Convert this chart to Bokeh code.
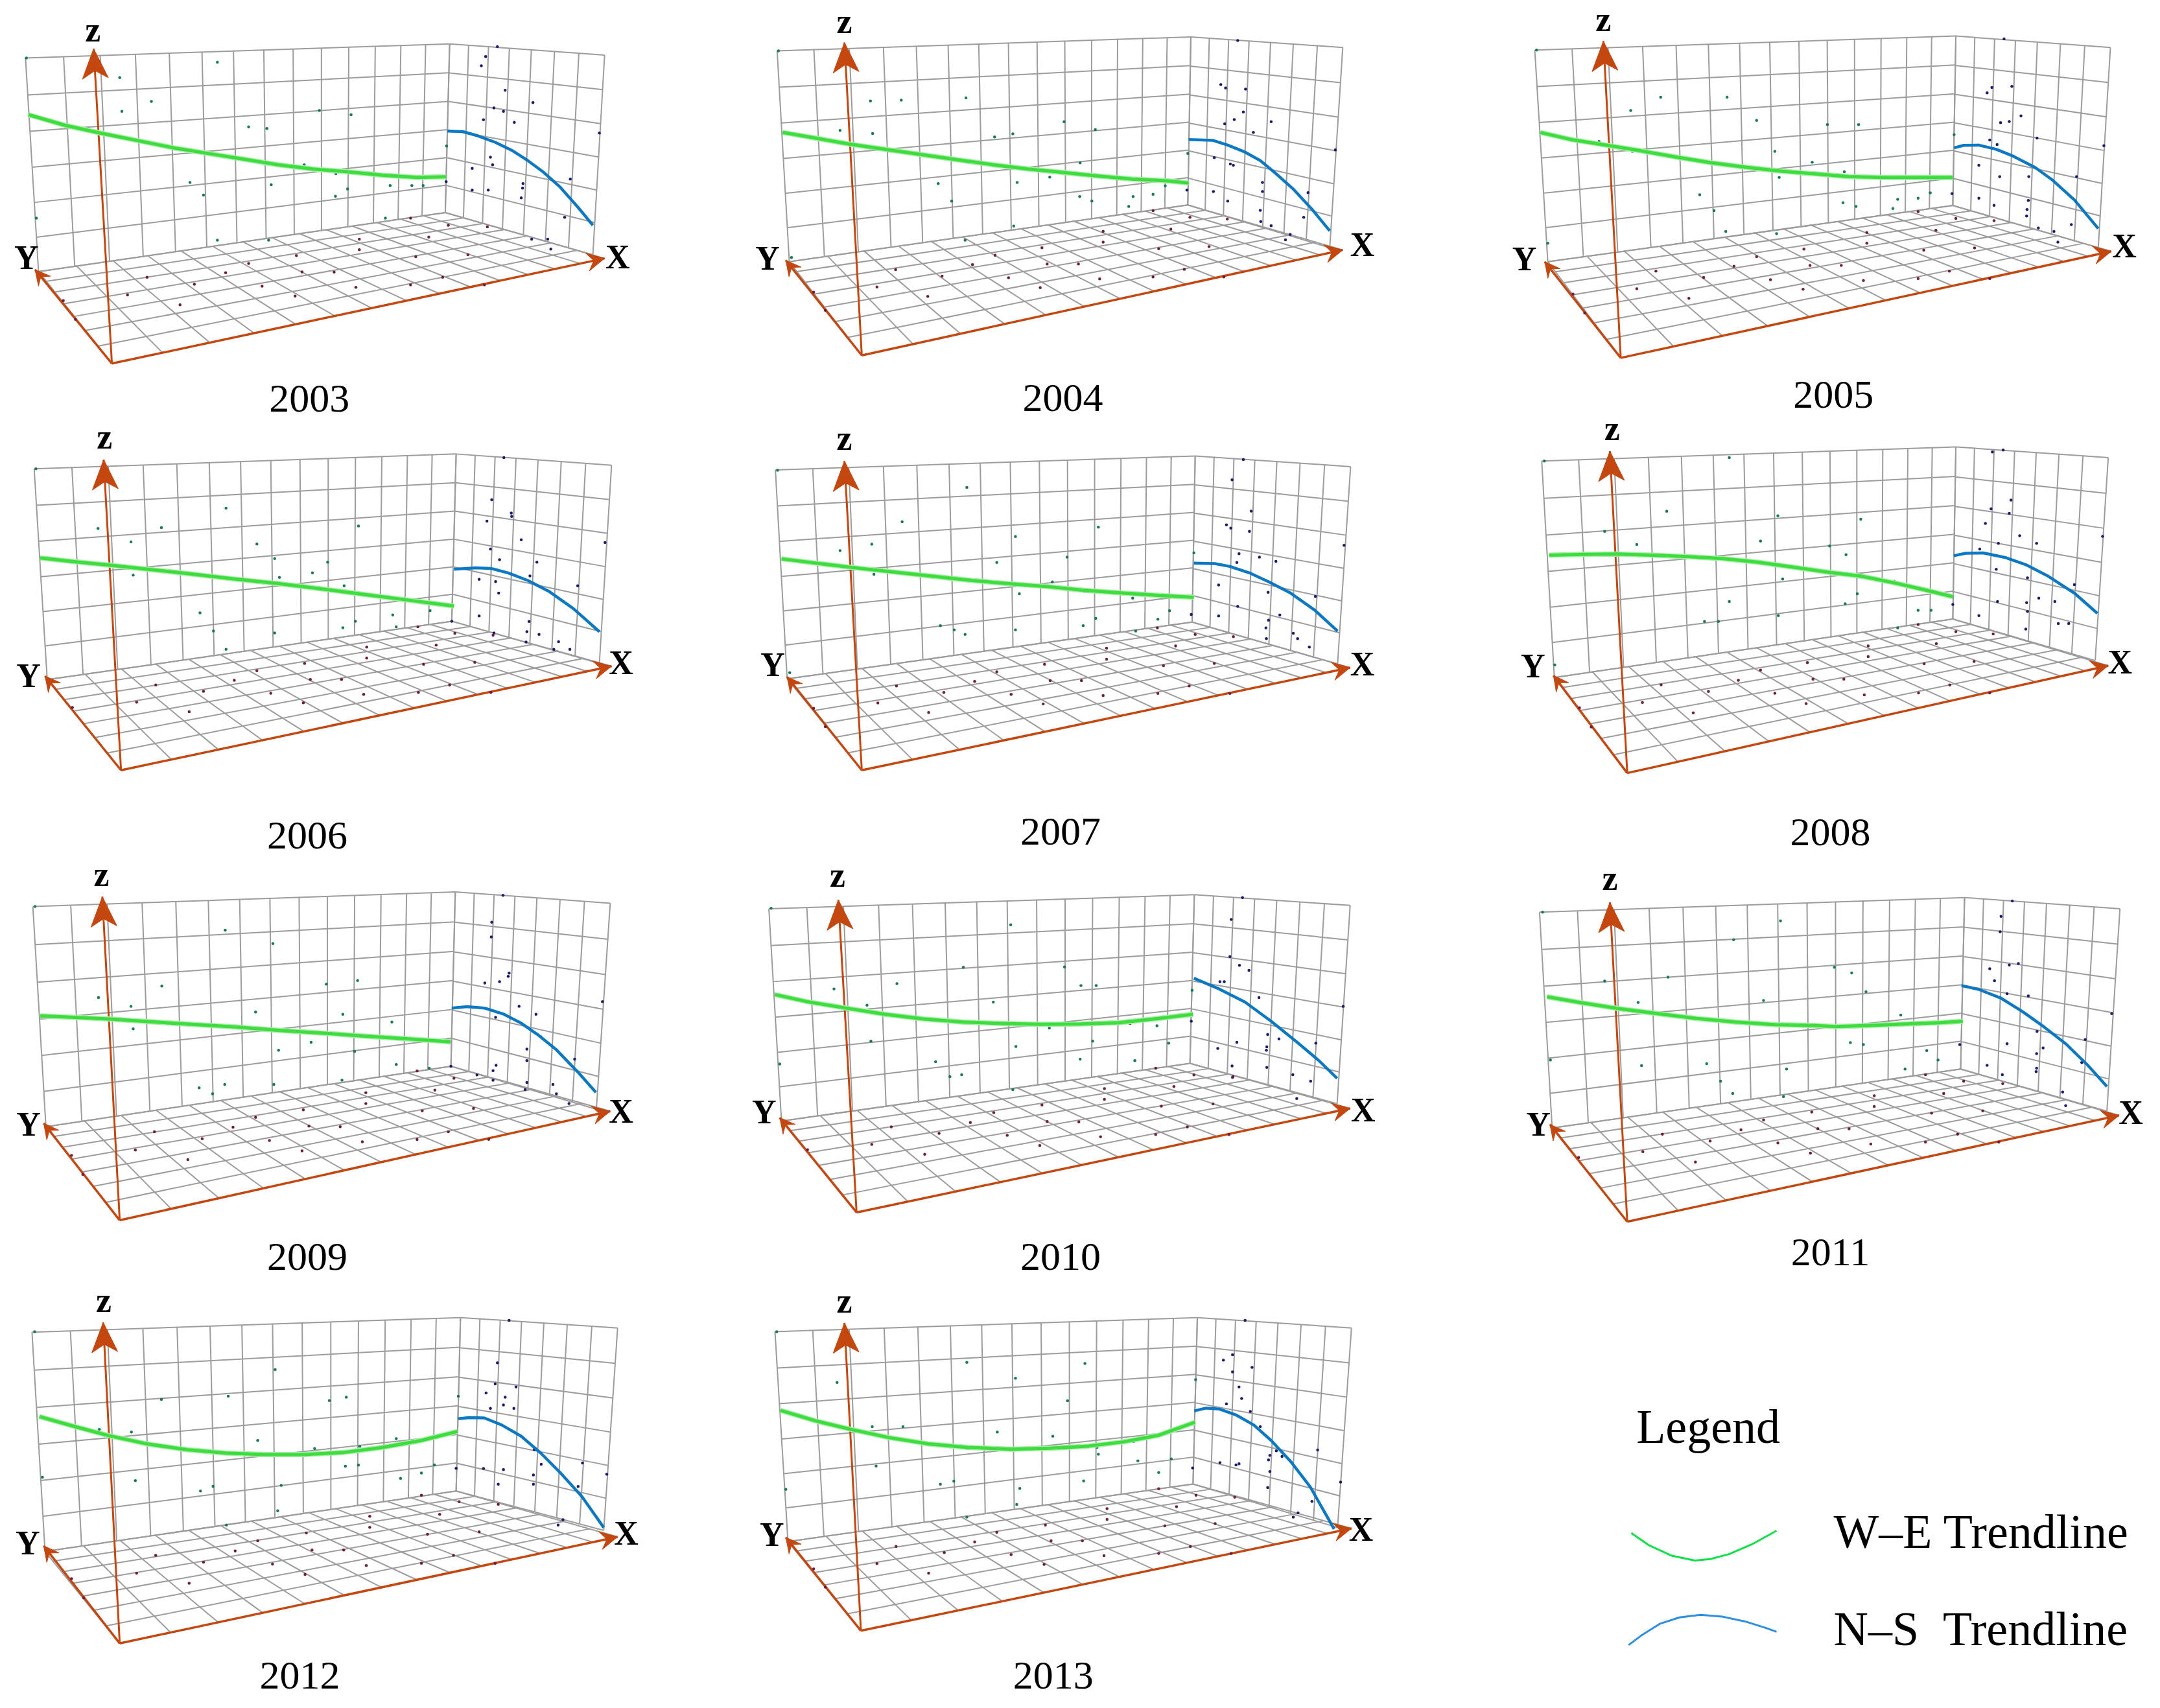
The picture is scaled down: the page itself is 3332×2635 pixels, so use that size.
# Yearly 3D trend plots 2003-2013, W-E and N-S trendlines on projected walls
# all positions are read off the picture, in crop units (see page_xy)
import numpy as np
from bokeh.core.properties import value
from bokeh.embed import file_html
from bokeh.models import Range1d
from bokeh.plotting import figure
from bokeh.resources import INLINE

years = ["2003", "2004", "2005", "2006", "2007", "2008", "2009", "2010", "2011", "2012", "2013"]

# W-E trendlines
we_2003 = [(65,407),(150,445),(230,472),(320,500),(400,525),(480,545),(560,565),(640,585),(720,600),(800,610),(880,622),(960,630),(1027,628)]
we_2004 = [(115,470),(190,490),(270,512),(360,532),(440,550),(520,568),(600,585),(680,600),(760,612),(840,625),(920,636),(1000,642),(1050,650)]
we_2005 = [(140,470),(210,495),(290,515),(370,535),(450,557),(530,577),(610,593),(690,607),(770,617),(850,627),(930,630),(1010,630),(1090,630)]
we_2006 = [(92,485),(170,498),(250,510),(340,525),(440,542),(540,560),(640,576),(740,595),(840,615),(940,635),(1045,656)]
we_2007 = [(112,488),(190,503),(270,518),(360,533),(450,548),(550,565),(650,578),(720,586),(810,600),(900,610),(980,618),(1062,625)]
we_2008 = [(160,475),(240,472),(320,471),(400,475),(480,480),(560,487),(640,500),(720,517),(800,535),(880,550),(960,575),(1030,600),(1090,623)]
we_2009 = [(92,546),(170,551),(250,557),(340,566),(440,576),(540,585),(640,597),(740,607),(840,618),(940,628),(1037,638)]
we_2010 = [(97,470),(170,495),(260,518),(350,540),(440,557),(530,568),(620,573),(710,576),(800,575),(890,570),(980,555),(1060,540)]
we_2011 = [(155,478),(230,498),(320,520),(410,538),(500,555),(590,568),(680,577),(770,580),(820,584),(900,580),(980,575),(1060,570),(1113,565)]
we_2012 = [(90,530),(170,565),(250,598),(340,628),(430,648),(520,660),(610,665),(700,665),(790,658),(880,640),(970,615),(1053,583)]
we_2013 = [(110,508),(190,545),(270,575),(360,605),(450,627),(540,640),(640,646),(730,643),(820,635),(900,620),(980,597),(1065,550)]

# N-S trendlines
ns_2003 = [(1030,465),(1065,467),(1100,482),(1140,505),(1180,535),(1215,570),(1250,610),(1290,665),(1330,735),(1365,800)]
ns_2004 = [(1050,495),(1105,498),(1140,515),(1180,540),(1215,570),(1250,615),(1290,670),(1335,745),(1375,820)]
ns_2005 = [(1093,525),(1115,516),(1150,515),(1190,530),(1230,555),(1280,595),(1320,640),(1370,710),(1425,812)]
ns_2006 = [(1045,525),(1095,520),(1130,522),(1170,538),(1215,565),(1265,605),(1320,665),(1380,747)]
ns_2007 = [(1062,503),(1110,505),(1145,515),(1190,538),(1235,570),(1285,610),(1340,670),(1393,745)]
ns_2008 = [(1092,477),(1120,468),(1160,467),(1210,483),(1260,510),(1310,550),(1370,610),(1423,682)]
ns_2009 = [(1040,518),(1075,513),(1115,518),(1160,540),(1200,572),(1240,615),(1280,665),(1330,745),(1372,818)]
ns_2010 = [(1062,412),(1120,450),(1180,497),(1240,565),(1300,640),(1350,705),(1392,768)]
ns_2011 = [(1110,438),(1150,452),(1200,482),(1250,530),(1300,585),(1350,645),(1400,720),(1445,797)]
ns_2012 = [(1055,538),(1080,534),(1115,535),(1155,560),(1200,600),(1245,660),(1290,730),(1340,815),(1390,925)]
ns_2013 = [(1063,510),(1090,500),(1120,503),(1160,525),(1200,560),(1240,615),(1285,690),(1330,780),(1385,930)]

# points projected on the back wall (green)
wall_w_2003 = [(60,205),(500,220),(275,275),(348,360),(280,395),(735,392),(808,407),(572,450),(614,456),(700,585),(773,617),(437,648),(624,656),(468,693),(800,671),(772,697),(898,659),(948,659),(974,659),(1028,518),(83,775),(500,853),(618,853),(887,775)]
wall_w_2004 = [(105,180),(317,358),(388,355),(537,347),(763,432),(835,460),(247,463),(322,474),(603,486),(645,475),(800,578),(473,652),(655,648),(730,629),(504,714),(799,698),(827,714),(922,698),(968,690),(996,660),(912,733),(1048,545),(647,803),(535,853),(135,915)]
wall_w_2005 = [(131,177),(417,345),(570,345),(348,392),(638,427),(801,442),(873,442),(275,502),(352,537),(680,537),(1093,478),(766,576),(840,610),(690,630),(507,692),(837,720),(867,733),(963,708),(1010,704),(1038,685),(952,741),(540,748),(567,822),(684,830),(157,864)]
wall_w_2006 = [(82,168),(520,308),(825,371),(225,380),(371,377),(301,428),(591,435),(632,487),(754,500),(719,538),(306,546),(643,554),(792,584),(460,680),(904,688),(990,672),(818,710),(912,730),(789,733),(491,745),(632,752),(520,810)]
wall_w_2007 = [(103,173),(539,234),(390,356),(842,375),(651,409),(320,436),(247,459),(770,482),(608,501),(1062,467),(325,543),(736,570),(809,604),(660,612),(921,628),(1006,673),(836,700),(979,703),(807,726),(478,726),(510,741),(651,741),(535,757),(928,745),(131,893)]
wall_w_2008 = [(149,140),(575,128),(431,319),(687,335),(878,347),(288,390),(362,437),(647,425),(806,442),(844,473),(367,478),(772,529),(698,560),(955,568),(870,612),(575,640),(842,648),(688,690),(1010,671),(1040,671),(518,711),(550,711),(963,734),(173,865)]
wall_w_2009 = [(80,157),(518,241),(628,289),(372,440),(751,433),(823,420),(226,481),(301,512),(588,532),(789,540),(902,568),(306,592),(716,640),(641,668),(816,672),(912,719),(988,732),(787,775),(458,802),(517,790),(630,790),(489,823)]
wall_w_2010 = [(88,163),(640,222),(531,373),(764,372),(802,438),(837,438),(378,431),(233,450),(600,497),(309,508),(1058,455),(915,573),(977,581),(729,589),(318,636),(829,636),(1004,643),(652,655),(467,709),(800,700),(926,705),(108,717),(527,755),(500,762),(645,808)]
wall_w_2011 = [(145,177),(693,208),(585,275),(817,373),(857,393),(288,422),(434,408),(890,460),(654,491),(365,498),(970,543),(854,641),(884,648),(1030,669),(1056,703),(373,723),(523,716),(707,735),(980,735),(163,703),(555,778),(583,822),(700,833)]
wall_w_2012 = [(79,228),(633,363),(371,469),(525,458),(758,473),(797,461),(1055,458),(228,576),(302,585),(593,615),(724,644),(828,636),(912,609),(795,707),(825,703),(1000,702),(970,731),(922,750),(311,758),(97,746),(461,795),(490,778),(647,775),(639,865),(521,916)]
wall_w_2013 = [(101,228),(539,337),(811,341),(651,394),(240,409),(771,474),(1066,399),(321,566),(392,566),(609,585),(737,600),(923,619),(839,640),(842,664),(933,688),(1010,681),(330,706),(981,729),(808,759),(478,771),(509,760),(661,786),(122,789),(654,843),(539,888)]

# points projected on the side wall (navy)
wall_n_2003 = [(1145,165),(1118,200),(1108,233),(1163,320),(1227,364),(1137,383),(1159,395),(1113,425),(1184,434),(1380,472),(1129,558),(1134,585),(1087,598),(1313,636),(1204,652),(1203,668),(1087,675),(1124,675),(1200,703),(1300,772),(1224,850),(1261,850),(1268,885),(1027,645)]
wall_n_2004 = [(1163,143),(1124,300),(1135,312),(1181,316),(1176,397),(1155,424),(1133,439),(1240,432),(1199,470),(1388,532),(1109,560),(1146,582),(1153,587),(1220,648),(1220,680),(1107,680),(1325,684),(1140,714),(1215,747),(1315,772),(1216,787),(1240,802),(1284,833),(1273,852),(1046,675)]
wall_n_2005 = [(1208,137),(1180,310),(1226,306),(1169,329),(1247,411),(1200,435),(1220,431),(1284,490),(1175,497),(1192,513),(1438,517),(1150,587),(1198,627),(1265,627),(1375,627),(1150,704),(1264,712),(1185,729),(1261,744),(1260,767),(1363,798),(1287,810),(1323,822),(1332,860),(1088,688)]
wall_n_2006 = [(1160,128),(1132,278),(1177,325),(1178,337),(1121,354),(1200,420),(1393,430),(1129,453),(1150,491),(1236,500),(1220,549),(1103,561),(1141,569),(1330,584),(1148,610),(1103,691),(1218,711),(1213,747),(1137,752),(1241,757),(1286,783),(1211,784),(1275,810),(1312,810),(1040,710)]
wall_n_2007 = [(1176,135),(1150,207),(1194,318),(1137,367),(1147,379),(1190,390),(1408,440),(1166,470),(1213,482),(1251,497),(1161,501),(1119,581),(1233,607),(1342,622),(1163,657),(1119,691),(1260,688),(1234,706),(1228,734),(1291,753),(1301,772),(1229,772),(1328,802),(1056,686)]
wall_n_2008 = [(1181,108),(1206,101),(1224,279),(1178,310),(1220,326),(1165,362),(1244,406),(1435,408),(1195,433),(1283,433),(1152,453),(1190,525),(1262,556),(1370,580),(1288,628),(1193,640),(1260,644),(1325,640),(1262,675),(1150,690),(1333,718),(1357,718),(1258,738),(1090,650)]
wall_n_2009 = [(1158,117),(1132,213),(1131,265),(1172,394),(1170,405),(1116,429),(1150,424),(1387,495),(1195,512),(1234,540),(1141,551),(1245,620),(1213,664),(1323,700),(1213,705),(1142,722),(1135,741),(1098,756),(1135,775),(1213,783),(1273,790),(1209,808),(1281,823),(1310,858),(1038,725)]
wall_n_2010 = [(1174,125),(1148,203),(1145,335),(1167,366),(1189,384),(1122,424),(1132,424),(1212,481),(1406,512),(1232,612),(1258,628),(1343,643),(1161,640),(1230,656),(1229,668),(1117,662),(1150,724),(1230,729),(1290,755),(1331,778),(1299,840),(1056,565),(1152,762)]
wall_n_2011 = [(1227,137),(1201,192),(1199,247),(1241,360),(1220,365),(1175,378),(1186,421),(1215,467),(1264,475),(1456,538),(1284,601),(1395,630),(1215,645),(1298,660),(1283,680),(1106,648),(1387,712),(1169,722),(1283,732),(1282,744),(1204,755),(1343,817),(1350,865)]
wall_n_2012 = [(1172,188),(1145,339),(1140,414),(1188,425),(1119,446),(1163,461),(1159,489),(1129,501),(1183,501),(1230,648),(1341,695),(1246,700),(1159,719),(1113,715),(1397,735),(1228,738),(1147,771),(1228,771),(1331,779),(1296,897),(1285,916),(1050,714)]
wall_n_2013 = [(1180,188),(1151,310),(1130,329),(1196,355),(1151,371),(1166,425),(1172,466),(1137,485),(1192,512),(1215,566),(1252,652),(1237,668),(1265,672),(1234,684),(1347,649),(1122,694),(1166,698),(1159,702),(1237,726),(1232,783),(1400,763),(1334,832),(1302,873),(1291,888),(1059,713)]

# points on the floor (maroon)
floor_2003 = [(945,775),(1032,800),(1122,806),(827,850),(987,842),(827,887),(682,908),(957,912),(1077,905),(572,936),(519,969),(695,966),(769,967),(338,985),(447,1010),(603,1017),(819,1021),(945,1012),(1019,985),(293,1048),(679,1052),(414,1083),(145,1068),(173,1135),(1115,1012)]
floor_2004 = [(968,748),(1053,772),(1139,778),(853,822),(1009,814),(853,860),(712,880),(981,884),(1097,876),(604,907),(552,940),(724,938),(796,938),(375,958),(482,981),(635,987),(845,991),(968,984),(1040,957),(332,1020),(708,1022),(449,1053),(186,1038),(213,1103),(1131,984)]
floor_2005 = [(1010,752),(1097,776),(1185,784),(892,826),(1051,818),(892,864),(747,885),(1023,889),(1140,881),(638,912),(586,946),(761,943),(833,943),(406,963),(516,986),(670,994),(884,997),(1010,990),(1082,963),(362,1026),(745,1028),(482,1060),(215,1045),(242,1112),(1175,990)]
floor_2006 = [(962,730),(1047,753),(1135,760),(844,802),(1004,795),(844,841),(701,860),(975,863),(1093,856),(591,886),(539,920),(714,917),(786,917),(358,937),(468,959),(623,966),(837,970),(963,963),(1035,937),(314,998),(698,1000),(435,1032),(166,1017),(1130,963)]
floor_2007 = [(978,734),(1065,757),(1153,765),(861,806),(1020,798),(861,845),(718,863),(992,868),(1109,860),(608,890),(557,924),(731,921),(803,921),(377,940),(486,963),(641,970),(853,974),(979,967),(1051,940),(334,1001),(715,1004),(451,1035),(186,1020),(213,1085),(1145,967)]
floor_2008 = [(1010,722),(1097,747),(1183,755),(895,798),(1052,790),(895,836),(755,857),(1024,861),(1139,853),(647,884),(596,920),(768,916),(839,916),(418,936),(527,960),(680,966),(886,972),(1011,965),(1083,937),(375,999),(752,1003),(492,1036),(230,1018),(257,1086),(1175,965)]
floor_2009 = [(960,742),(1045,768),(842,819),(1001,810),(842,858),(698,880),(972,884),(1090,875),(588,907),(536,942),(711,938),(783,940),(355,958),(465,983),(620,989),(834,994),(960,986),(1032,958),(311,1023),(695,1026),(432,1057),(164,1042),(190,1110),(1125,985)]
floor_2010 = [(974,732),(1062,756),(1151,765),(856,805),(1016,797),(856,843),(712,863),(987,867),(1106,859),(601,890),(547,925),(724,922),(797,923),(365,941),(475,964),(632,971),(847,976),(974,968),(1047,941),(320,1003),(707,1007),(442,1038),(172,1022),(1143,968)]
floor_2011 = [(1027,755),(1115,778),(1205,787),(909,830),(1069,822),(909,868),(765,888),(1041,892),(1159,884),(654,916),(602,951),(779,947),(851,948),(421,967),(531,991),(687,998),(901,1002),(1027,995),(1101,967),(376,1029),(762,1034),(497,1066),(228,1050),(1196,995)]
floor_2012 = [(970,810),(1057,833),(1147,842),(851,885),(1012,878),(851,924),(705,944),(984,949),(1103,940),(593,972),(541,1008),(718,1005),(791,1005),(358,1024),(468,1048),(627,1055),(843,1060),(970,1052),(1044,1024),(314,1087),(702,1092),(435,1123),(164,1107),(192,1175),(1140,1052)]
floor_2013 = [(981,787),(1067,810),(1156,817),(862,858),(1022,851),(862,896),(720,916),(995,919),(1111,911),(608,942),(557,976),(733,972),(805,972),(376,992),(487,1014),(641,1021),(855,1025),(981,1017),(1054,992),(332,1053),(717,1056),(451,1087),(186,1072),(213,1137),(1148,1017)]

# legend curves
legend_we = [(195,775),(240,830),(300,878),(360,900),(400,893),(450,870),(510,825),(572,765)]
legend_ns = [(188,1282),(220,1240),(270,1185),(320,1157),(375,1145),(430,1153),(490,1175),(540,1202),(572,1222)]

# box of each panel: crop origin, then corners TL TC TR BL BC BR, origin, X Y Z tips
frame = {
    "2003": ((0, 0), (58,205), (1035,155), (1392,195), (88,965), (1025,755), (1365,905), (257,1292), (1392,918), (80,958), (215,172)),
    "2004": ((1130, 0), (102,180), (1055,130), (1405,168), (130,930), (1048,728), (1375,880), (297,1263), (1405,888), (122,925), (257,150)),
    "2005": ((2282, 0), (127,177), (1097,127), (1453,168), (157,930), (1090,730), (1425,880), (325,1272), (1455,893), (150,930), (285,145)),
    "2006": ((0, 650), (78,168), (1050,115), (1408,155), (108,918), (1040,710), (1380,860), (278,1240), (1408,870), (103,905), (238,135)),
    "2007": ((1130, 650), (98,172), (1065,122), (1423,160), (125,915), (1058,713), (1393,862), (297,1240), (1422,875), (125,908), (257,140)),
    "2008": ((2282, 650), (143,140), (1097,90), (1448,128), (172,910), (1090,702), (1418,850), (340,1250), (1448,868), (170,903), (300,105)),
    "2009": ((0, 1330), (75,157), (1048,105), (1405,145), (105,940), (1038,725), (1373,878), (275,1273), (1405,885), (100,928), (235,122)),
    "2010": ((1130, 1330), (83,165), (1063,115), (1422,153), (112,920), (1053,715), (1392,858), (285,1245), (1422,875), (108,908), (243,133)),
    "2011": ((2282, 1330), (138,177), (1117,125), (1475,165), (167,945), (1108,735), (1445,885), (340,1278), (1473,900), (162,932), (300,142)),
    "2012": ((0, 1955), (73,230), (1060,178), (1422,215), (103,1010), (1050,795), (1390,935), (275,1337), (1422,958), (100,990), (237,195)),
    "2013": ((1130, 1955), (97,228), (1070,178), (1425,215), (127,975), (1060,770), (1393,925), (295,1292), (1425,928), (122,960), (257,197)),
}
# label centres: z, Y, X, year
label_pos = {
    "2003": ((213,106), (60,915), (1422,912), (712,1418)),
    "2004": ((257,74), (80,918), (1450,870), (760,1415)),
    "2005": ((285,69), (103,920), (1485,875), (815,1402)),
    "2006": ((240,54), (65,905), (1430,858), (707,1473)),
    "2007": ((257,59), (92,865), (1450,862), (755,1458)),
    "2008": ((305,24), (123,870), (1475,855), (808,1460)),
    "2009": ((233,42), (65,932), (1430,885), (707,1402)),
    "2010": ((241,46), (72,887), (1452,880), (755,1402)),
    "2011": ((300,56), (135,932), (1500,890), (808,1388)),
    "2012": ((238,116), (63,980), (1442,945), (690,1452)),
    "2013": ((257,119), (90,950), (1447,932), (738,1452)),
}

AXIS = "#c4470f"
GRID = "#9c9c9c"
SERIF = value("Liberation Serif")


# crop units to picture pixels
def page_xy(pts, ox, oy, cw=1050, ch=680):
    a = np.array(pts, dtype=float)
    return ox + a[:, 0] * cw / 1568, oy + a[:, 1] * ch / 1568


# projective map of the unit square on four corners
def quad_map(p00, p10, p01, p11):
    src = [(0, 0), (1, 0), (0, 1), (1, 1)]
    dst = [p00, p10, p01, p11]
    A, b = [], []
    for (u, v), (x, y) in zip(src, dst):
        A.append([u, v, 1, 0, 0, 0, -u * x, -v * x])
        A.append([0, 0, 0, u, v, 1, -u * y, -v * y])
        b += [x, y]
    h = np.append(np.linalg.solve(np.array(A, float), np.array(b, float)), 1).reshape(3, 3)

    def f(u, v):
        r = h @ np.array([u, v, 1.0])
        return r[0] / r[2], r[1] / r[2]
    return f


def grid_lines(p00, p10, p01, p11, nu, nv):
    f = quad_map(p00, p10, p01, p11)
    xs, ys = [], []
    for i in range(nu + 1):
        a, b = f(i / nu, 0), f(i / nu, 1)
        xs.append([a[0], b[0]])
        ys.append([a[1], b[1]])
    for j in range(nv + 1):
        a, b = f(0, j / nv), f(1, j / nv)
        xs.append([a[0], b[0]])
        ys.append([a[1], b[1]])
    return xs, ys


def arrow_head(tip, tail, length, width, notch):
    d = np.array(tip) - np.array(tail)
    d = d / np.hypot(*d)
    n = np.array([-d[1], d[0]])
    t = np.array(tip)
    pts = [t, t - d * length + n * width / 2, t - d * notch, t - d * length - n * width / 2]
    return [q[0] for q in pts], [q[1] for q in pts]


p = figure(width=3316, height=2619, x_range=Range1d(0, 3316), y_range=Range1d(2619, 0),
           output_backend="svg", toolbar_location=None, tools="", min_border=0)
p.axis.visible = False
p.grid.visible = False
p.outline_line_color = None

data = globals()
for yr in years:
    (ox, oy), *corners = frame[yr]
    xs_c, ys_c = page_xy(corners, ox, oy)
    pt = list(zip(xs_c, ys_c))
    TL, TC, TR, BL, BC, BR, O, XT, YT, ZT = pt

    # walls and floor
    for quad, nu, nv in [((TL, TC, BL, BC), 14, 6), ((TC, TR, BC, BR), 7, 6), ((BL, BC, O, XT), 14, 7)]:
        gx, gy = grid_lines(*quad, nu, nv)
        p.multi_line(gx, gy, line_color=GRID, line_width=2)

    # axes with their heads
    for tip, tl, w, ln, wd, nt in [(ZT, O, 3, 46, 40, 34), (XT, O, 3.5, 27, 28, 17), (YT, O, 3.5, 23, 24, 14)]:
        p.line([tl[0], tip[0]], [tl[1], tip[1]], line_color=AXIS, line_width=w)
        hx, hy = arrow_head(tip, tl, ln, wd, nt)
        p.patch(hx, hy, fill_color=AXIS, line_color=AXIS, line_width=1)

    # projected points
    for name, col in [("wall_w_", "#17785a"), ("wall_n_", "#1b1b6b"), ("floor_", "#6e1c42")]:
        x, y = page_xy(data[name + yr], ox, oy)
        p.scatter(x, y, size=4.5, fill_color=col, line_color=None)

    # trendlines, the green one has a soft edge
    x, y = page_xy(data["we_" + yr], ox, oy)
    p.line(x, y, line_color="#a6efa6", line_width=8, line_join="round")
    p.line(x, y, line_color="#3fdc3f", line_width=5, line_join="round")
    x, y = page_xy(data["ns_" + yr], ox, oy)
    p.line(x, y, line_color="#0b78c4", line_width=4.5, line_join="round")

    # labels
    lz, ly, lx, ln = label_pos[yr]
    for txt, pos, size, style in [("z", lz, "54px", "bold"), ("Y", ly, "52px", "bold"),
                                  ("X", lx, "52px", "bold"), (yr, ln, "62px", "normal")]:
        tx, ty = page_xy([pos], ox, oy)
        p.text(tx, ty, text=[txt], text_font=SERIF, text_font_size=size, text_font_style=style,
               text_color="black", text_align="center", text_baseline="middle")

# legend
lx, ly = page_xy(legend_we, 2400, 2100, 932, 535)
p.line(lx, ly, line_color="#12e04a", line_width=3, line_join="round")
lx, ly = page_xy(legend_ns, 2400, 2100, 932, 535)
p.line(lx, ly, line_color="#2e8fe0", line_width=3, line_join="round")
for txt, pos in [("Legend", (208, 295)), ("W–E Trendline", (720, 770)), ("N–S\u00a0\u00a0Trendline", (720, 1210))]:
    tx, ty = page_xy([pos], 2400, 2100, 932, 535)
    p.text(tx, ty, text=[txt], text_font=SERIF, text_font_size="74px", text_color="black",
           text_align="left", text_baseline="middle")

open("out.html", "w").write(file_html(p, INLINE))
